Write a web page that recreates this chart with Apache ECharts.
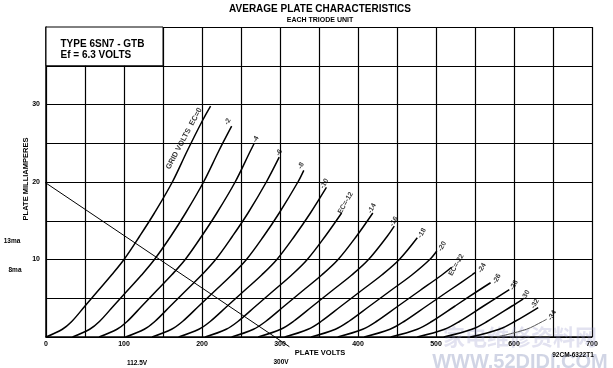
<!DOCTYPE html>
<html><head><meta charset="utf-8">
<script src="https://cdn.jsdelivr.net/npm/echarts@6/dist/echarts.min.js"></script>
<style>html,body{margin:0;padding:0;background:#fff}#c{width:613px;height:368px}</style>
</head><body><div id="c"></div>
<script>
// ---- data ----
const xTickLabels = [0,100,200,300,400,500,600,700];
const yTickLabels = [10,20,30];
const gridVolts = [0,-2,-4,-6,-8,-10,-12,-14,-16,-18,-20,-22,-24,-26,-28,-30,-32,-34];
const ec0  = [[0,0],[21,1],[33,2],[50,4],[67,6],[84,8],[100,10],[120,13],[139,16],[162,20],[181,24],[201,28],[211,29.8]];
const ec2  = [[34,0],[56,1],[68.5,2],[86.5,4],[104.5,6],[122.5,8],[139,10],[160,13],[179,16],[202,20],[221.5,24],[238,27.2]];
const ec4  = [[68,0],[91,1],[104,2],[123,4],[142,6],[161,8],[178.5,10],[199.5,13],[219,16],[242.5,20],[262,24],[267,25]];
const ec6  = [[102,0],[126,1],[139.5,2],[159.5,4],[179.5,6],[199.5,8],[217.5,10],[239,13],[259,16],[282.5,20],[299,23.2]];
const ec8  = [[136,0],[161,1],[175,2],[196,4],[217,6],[238,8],[257,10],[279,13],[299,16],[323,20],[330.5,21.5]];
const ec10 = [[170,0],[196,1],[210.5,2],[232.5,4],[254.5,6],[276.5,8],[296,10],[318.5,13],[339,16],[359.5,19.3]];
const ec12 = [[204,0],[231,1],[246,2],[269,4],[292,6],[315,8],[335,10],[358,13],[379,16]];
const ec14 = [[238,0],[266,1],[281.5,2],[305.5,4],[329.5,6],[353.5,8],[374.5,10],[398,13],[419,16]];
const ec16 = [[272,0],[301,1],[317,2],[342,4],[367,6],[392,8],[413.5,10],[437.5,13],[446.5,14.3]];
const ec18 = [[306,0],[336,1],[352.5,2],[378.5,4],[404.5,6],[430.5,8],[453,10],[476,12.8]];
const ec20 = [[340,0],[371,1],[388,2],[415,4],[442,6],[469,8],[492,10],[501,11.1]];
const ec22 = [[374,0],[406,1],[423.5,2],[451.5,4],[479.5,6],[507.5,8],[520,9]];
const ec24 = [[408,0],[441,1],[459,2],[488,4],[517,6],[546,8],[550,8.3]];
const ec26 = [[442,0],[476,1],[494.5,2],[524.5,4],[554.5,6],[570,7]];
const ec28 = [[476,0],[511,1],[530,2],[561,4],[594,6.1]];
const ec30 = [[510,0],[546,1],[565.5,2],[597.5,4],[611.5,4.9]];
const ec32 = [[544,0],[581,1],[601,2],[631,3.8]];
const ec34 = [[578,0],[616,1],[636.5,2],[642,2.3]];
const curves = [ec0,ec2,ec4,ec6,ec8,ec10,ec12,ec14,ec16,ec18,ec20,ec22,ec24,ec26,ec28,ec30,ec32,ec34];
const loadLine = [[-18.3,21.1],[312,-1.25]];
const curveLabels = [
  [177,25.6,'GRID VOLTS  EC=0'],[233,27.8,'-2'],[269,25.5,'-4'],[299,23.8,'-6'],[327,22.1,'-8'],
  [357,19.8,'-10'],[384,17.3,'EC=-12'],[418,16.6,'-14'],[446,14.9,'-16'],[482,13.4,'-18'],
  [508,11.7,'-20'],[526,9.3,'EC=-22'],[559,8.9,'-24'],[578,7.5,'-26'],[600,6.7,'-28'],
  [615,5.4,'-30'],[627,4.3,'-32'],[649,2.8,'-34']
];
const typeBox = [[0,35],[150,40]];
const typeText = 'TYPE 6SN7 - GTB\nEf = 6.3 VOLTS';

// ---- chart ----
const FONT = 'Liberation Sans, Arial, sans-serif';
const chart = echarts.init(document.getElementById('c'), null, {renderer:'canvas'});
const series = curves.map((d,i)=>({
  type:'line', name:'Ec='+gridVolts[i], data:d, showSymbol:false, smooth:0.35,
  lineStyle:{color: i===curves.length-1 ? '#555' : '#000', width: i===curves.length-1 ? 1 : 1.5},
  silent:true, z:3
}));
series.push({
  type:'line', data:loadLine, showSymbol:false, clip:false, lineStyle:{color:'#000', width:1}, z:3,
  markArea:{silent:true, itemStyle:{color:'#fff', borderColor:'#000', borderWidth:1},
    label:{show:true, position:'insideTopLeft', offset:[10,7], color:'#000', fontFamily:FONT, fontWeight:'bold', fontSize:10, lineHeight:11, formatter:typeText},
    data:[[{coord:typeBox[0]},{coord:typeBox[1]}]]}
});
series.push({
  type:'scatter', symbolSize:1, itemStyle:{color:'rgba(0,0,0,0)'}, z:5,
  data:curveLabels.map((d,i)=> i===0 ? {value:d, label:{rotate:62, fontSize:7.5}} : {value:d}),
  label:{show:true, position:'inside', rotate:60, formatter:p=>p.value[2], color:'#000', fontFamily:FONT, fontWeight:'bold', fontSize:7}
});

const txt = (x,y,text,size,extra)=>Object.assign({type:'text', x, y, z:10, style:{text, fill:'#000', font:'bold '+size+'px '+FONT, textAlign:'center', textVerticalAlign:'middle', align:'center', verticalAlign:'middle'}}, extra||{});

chart.setOption({
  animation:false,
  backgroundColor:'#fff',
  grid:{left:46, top:27, width:546, height:310, show:false},
  xAxis:{type:'value', min:0, max:700, interval:50,
    axisLine:{lineStyle:{color:'#000', width:1.5}}, axisTick:{show:false},
    splitLine:{lineStyle:{color:'#000', width:1.2}},
    axisLabel:{margin:4, color:'#000', fontFamily:FONT, fontWeight:'bold', fontSize:7,
      formatter:v=> xTickLabels.includes(v) ? String(v) : ''}},
  yAxis:{type:'value', min:0, max:40, interval:5,
    axisLine:{show:true, lineStyle:{color:'#000', width:1.5}}, axisTick:{show:false},
    splitLine:{lineStyle:{color:'#000', width:1.2}},
    axisLabel:{margin:6, color:'#000', fontFamily:FONT, fontWeight:'bold', fontSize:7,
      formatter:v=> yTickLabels.includes(v) ? String(v) : ''}},
  series,
  graphic:[
    txt(320,9,'AVERAGE PLATE CHARACTERISTICS',10),
    txt(320,20,'EACH TRIODE UNIT',7),
    txt(26,179,'PLATE MILLIAMPERES',7.5,{rotation:Math.PI/2}),
    txt(12,241,'13ma',6.5),
    txt(15,270,'8ma',6.5),
    txt(320,353,'PLATE VOLTS',7.5),
    txt(137,363,'112.5V',6.5),
    txt(281,362,'300V',6.5),
    txt(573,355,'92CM-6322T1',6.5),
    {type:'text', x:520, y:337, z:1, style:{text:'家电维修资料网', fill:'rgba(150,150,200,0.28)', font:'bold 22px Noto Sans CJK SC', textAlign:'center', textVerticalAlign:'middle', align:'center', verticalAlign:'middle'}},
    {type:'text', x:520, y:362, z:1, style:{text:'WWW.52DIDI.COM', fill:'rgba(140,150,190,0.4)', font:'bold 20px '+FONT, textAlign:'center', textVerticalAlign:'middle', align:'center', verticalAlign:'middle'}}
  ]
});
</script></body></html>
